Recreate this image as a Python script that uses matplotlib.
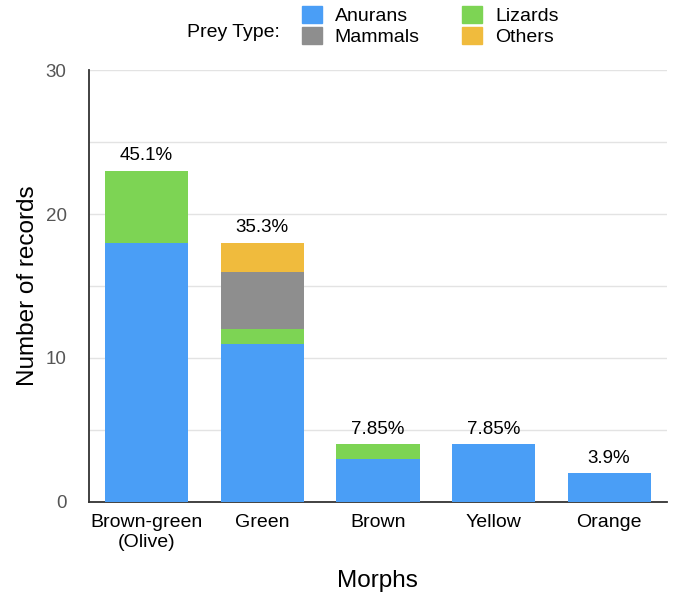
import matplotlib
matplotlib.use("Agg")
import matplotlib.pyplot as plt
from matplotlib.patches import Patch

plt.rcParams["font.family"] = ["Liberation Sans", "DejaVu Sans"]

# data
morphs = ["Brown-green\n(Olive)", "Green", "Brown", "Yellow", "Orange"]
anurans = [18, 11, 3, 4, 2]
lizards = [5, 1, 1, 0, 0]
mammals = [0, 4, 0, 0, 0]
others = [0, 2, 0, 0, 0]
pct_labels = ["45.1%", "35.3%", "7.85%", "7.85%", "3.9%"]

c_anu = "#4A9EF6"
c_liz = "#7DD454"
c_mam = "#8E8E8E"
c_oth = "#F0BB3D"

fig = plt.figure(figsize=(6.73, 5.94), dpi=100)
ax = fig.add_axes([0.132, 0.155, 0.859, 0.727])

x = list(range(len(morphs)))
w = 0.72
ax.bar(x, anurans, w, color=c_anu, zorder=3)
b1 = anurans
ax.bar(x, lizards, w, bottom=b1, color=c_liz, zorder=3)
b2 = [a + b for a, b in zip(b1, lizards)]
ax.bar(x, mammals, w, bottom=b2, color=c_mam, zorder=3)
b3 = [a + b for a, b in zip(b2, mammals)]
ax.bar(x, others, w, bottom=b3, color=c_oth, zorder=3)
tops = [a + b for a, b in zip(b3, others)]

for xi, t, lab in zip(x, tops, pct_labels):
    ax.text(xi, t + 0.45, lab, ha="center", va="bottom", fontsize=13.5)

ax.set_xlim(-0.5, 4.5)
ax.set_ylim(0, 30)
ax.set_yticks([0, 10, 20, 30])
ax.set_yticks([5, 15, 25], minor=True)
ax.grid(axis="y", which="both", color="#e3e3e3", lw=1, zorder=0)
ax.tick_params(axis="both", which="both", length=0)
ax.tick_params(axis="y", labelsize=13.5, labelcolor="#555555", pad=16)
ax.tick_params(axis="x", labelsize=14, pad=9)
ax.set_xticks(x)
ax.set_xticklabels(morphs)

for s in ["top", "right"]:
    ax.spines[s].set_visible(False)
ax.spines["left"].set_color("#333333")
ax.spines["bottom"].set_color("#333333")
ax.spines["left"].set_linewidth(1.3)
ax.spines["bottom"].set_linewidth(1.3)

ax.set_xlabel("Morphs", fontsize=17.5, labelpad=14)
ax.set_ylabel("Number of records", fontsize=17.5, labelpad=5)

handles = [Patch(color=c_anu, label="Anurans"), Patch(color=c_mam, label="Mammals"),
           Patch(color=c_liz, label="Lizards"), Patch(color=c_oth, label="Others")]
fig.legend(handles=handles, ncol=2, loc="upper left", bbox_to_anchor=(0.449, 0.99),
           frameon=False, fontsize=14, handlelength=1.0, handleheight=1.0,
           handletextpad=0.67, columnspacing=2.2, labelspacing=0.08,
           borderpad=0, borderaxespad=0)
fig.text(0.416, 0.946, "Prey Type:", ha="right", va="center", fontsize=14)

fig.savefig("out.png", dpi=100)
